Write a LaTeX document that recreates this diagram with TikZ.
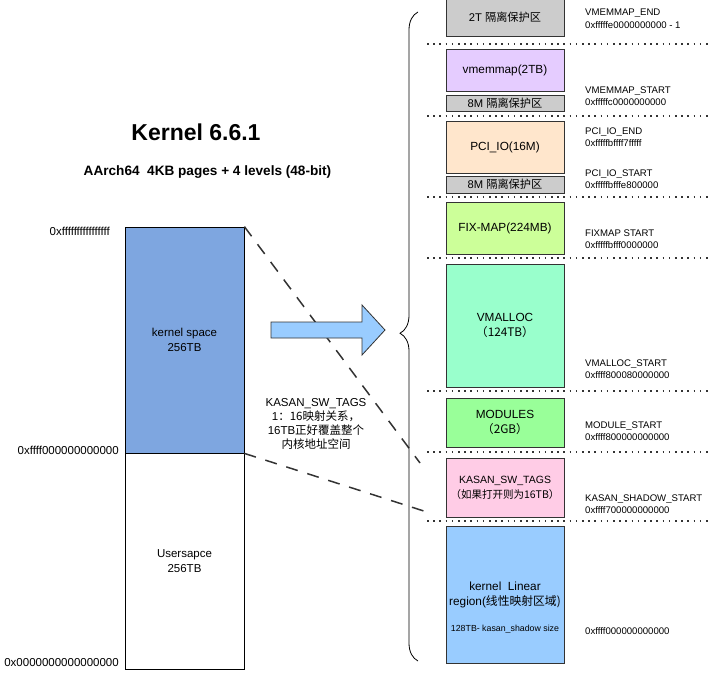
\documentclass[tikz,border=0pt]{standalone}
\usepackage{fontspec}
\setmainfont{Liberation Sans}
\newfontfamily\cjk{Noto Sans CJK SC}
\definecolor{kvblue}{HTML}{7EA6E0}
\definecolor{kvguard}{HTML}{CCCCCC}
\definecolor{kvlilac}{HTML}{E5CCFF}
\definecolor{kvpeach}{HTML}{FFE6CC}
\definecolor{kvlime}{HTML}{CCFF99}
\definecolor{kvmint}{HTML}{99FFCC}
\definecolor{kvgreen}{HTML}{99FF99}
\definecolor{kvpink}{HTML}{FFCCE6}
\definecolor{kvsky}{HTML}{99CCFF}
\definecolor{kvline}{HTML}{333333}
\usetikzlibrary{positioning,decorations.pathreplacing}

\begin{document}
\begin{tikzpicture}[x=1pt, y=-1pt,
    seg/.style={draw=kvline, line width=0.8pt, minimum width=118pt,
                inner sep=0pt, align=center, font=\fontsize{11.8}{15}\selectfont},
    half/.style={draw=black, line width=0.8pt, minimum width=119pt,
                 minimum height=226pt, inner sep=0pt, align=center,
                 font=\fontsize{11.5}{15}\selectfont},
    addr/.style={anchor=west, align=left, inner sep=0pt,
                 font=\fontsize{9.6}{12.5}\selectfont},
    vaddr/.style={anchor=east, inner sep=0pt, font=\fontsize{11.5}{14}\selectfont},
    sepline/.style={kvline, line width=1.6pt, dash pattern=on 1.6pt off 4.6pt},
    mapline/.style={draw=kvline, line width=1.5pt, dash pattern=on 12pt off 10pt}
  ]
  \useasboundingbox (0,0) rectangle (720,680);

  % titles
  \node[font=\fontsize{23}{26}\selectfont\bfseries] (title) at (196,132) {Kernel 6.6.1};
  \node[font=\fontsize{13.6}{16}\selectfont\bfseries] (subtitle) at (207.5,172)
    {AArch64\ \ 4KB pages + 4 levels (48-bit)};

  % whole address space
  \node[half, fill=kvblue] (kspace) at (184.5,340) {kernel space\\256TB};
  \node[half, fill=white, minimum height=216pt] (uspace) at (184.5,561) {Usersapce\\256TB};
  \node[vaddr] (atop) at (110,231) {0xffffffffffffffff};
  \node[vaddr] (amid) at (119,450) {0xffff000000000000};
  \node[vaddr] (abot) at (119,663) {0x0000000000000000};

  % kernel layout
  \node[seg, fill=kvguard, minimum height=37pt, font=\fontsize{11.2}{14}\selectfont] (gap2t) at (505,17.5)
    {2T \cjk{隔离保护区}};
  \node[seg, fill=kvlilac, minimum height=42pt] (vmemmap) at (505,70) {vmemmap(2TB)};
  \node[seg, fill=kvguard, minimum height=16pt, font=\fontsize{11.2}{14}\selectfont] (gap8a) at (505,103)
    {8M \cjk{隔离保护区}};
  \node[seg, fill=kvpeach, minimum height=52pt] (pciio) at (505,147) {PCI\_IO(16M)};
  \node[seg, fill=kvguard, minimum height=17pt, font=\fontsize{11.2}{14}\selectfont] (gap8b) at (505,184.5)
    {8M \cjk{隔离保护区}};
  \node[seg, fill=kvlime, minimum height=52pt] (fixmap) at (505,228) {FIX-MAP(224MB)};
  \node[seg, fill=kvmint, minimum height=123pt] (vmalloc) at (505,325.5)
    {VMALLOC\\\cjk{（}124TB\cjk{）}};
  \node[seg, fill=kvgreen, minimum height=49pt] (modules) at (505,422.5)
    {MODULES\\\cjk{（}2GB\cjk{）}};
  \node[seg, fill=kvpink, minimum height=59pt, font=\fontsize{10.5}{15}\selectfont] (kasan) at (505,487.5)
    {KASAN\_SW\_TAGS\\\cjk{（如果打开则为}16TB\cjk{）}};
  \node[seg, fill=kvsky, minimum height=137pt] (linear) at (505,594.5)
    {kernel\ \ Linear\\region(\cjk{线性映射区域})};
  \node[font=\fontsize{8.8}{10}\selectfont, inner sep=0pt] (shadow) at (505,629)
    {128TB- kasan\_shadow size};

  \foreach \y in {44,116,197,258,391,452,521}
    \draw[sepline] (427,\y) -- (712,\y);

  % symbols and addresses
  \node[addr] (vmmend) at (585,18.6) {VMEMMAP\_END\\0xfffffe0000000000 - 1};
  \node[addr] (vmmstart) at (585,96) {VMEMMAP\_START\\0xfffffc0000000000};
  \node[addr] (pciend) at (585,137) {PCI\_IO\_END\\0xfffffbffff7fffff};
  \node[addr] (pcistart) at (585,179) {PCI\_IO\_START\\0xfffffbfffe800000};
  \node[addr] (fixstart) at (585,239) {FIXMAP START\\0xfffffbfff0000000};
  \node[addr] (vmastart) at (585,369) {VMALLOC\_START\\0xffff800080000000};
  \node[addr] (modstart) at (585,431) {MODULE\_START\\0xffff800000000000};
  \node[addr] (kasstart) at (585,504) {KASAN\_SHADOW\_START\\0xffff700000000000};
  \node[addr] (linstart) at (585,631) {0xffff000000000000};

  % KASAN shadow mapping
  \coordinate (kasanTop) at (420,463);
  \coordinate (kasanBot) at (430,513);
  \draw[mapline] (kspace.north east) -- (kasanTop);
  \draw[mapline] (kspace.south east) -- (kasanBot);
  \node[align=center, font=\fontsize{11.5}{14}\selectfont, inner sep=1pt] (note) at (316,424)
    {KASAN\_SW\_TAGS\\1\cjk{：}16\cjk{映射关系，}\\16TB\cjk{正好覆盖整个}\\\cjk{内核地址空间}};

  % expand arrow and brace
  \draw[draw=kvline, fill=kvsky, line width=0.8pt, line join=miter]
    (271,322) -- (362,322) -- (362,305) -- (385,330) -- (362,355) -- (362,338) -- (271,338) -- cycle;
  \coordinate (braceTop) at (418,12);
  \coordinate (braceBot) at (418,661);
  \draw[line width=0.8pt, decorate, decoration={brace, amplitude=18pt, aspect=0.505}]
    (braceBot) -- (braceTop);
\end{tikzpicture}
\end{document}
